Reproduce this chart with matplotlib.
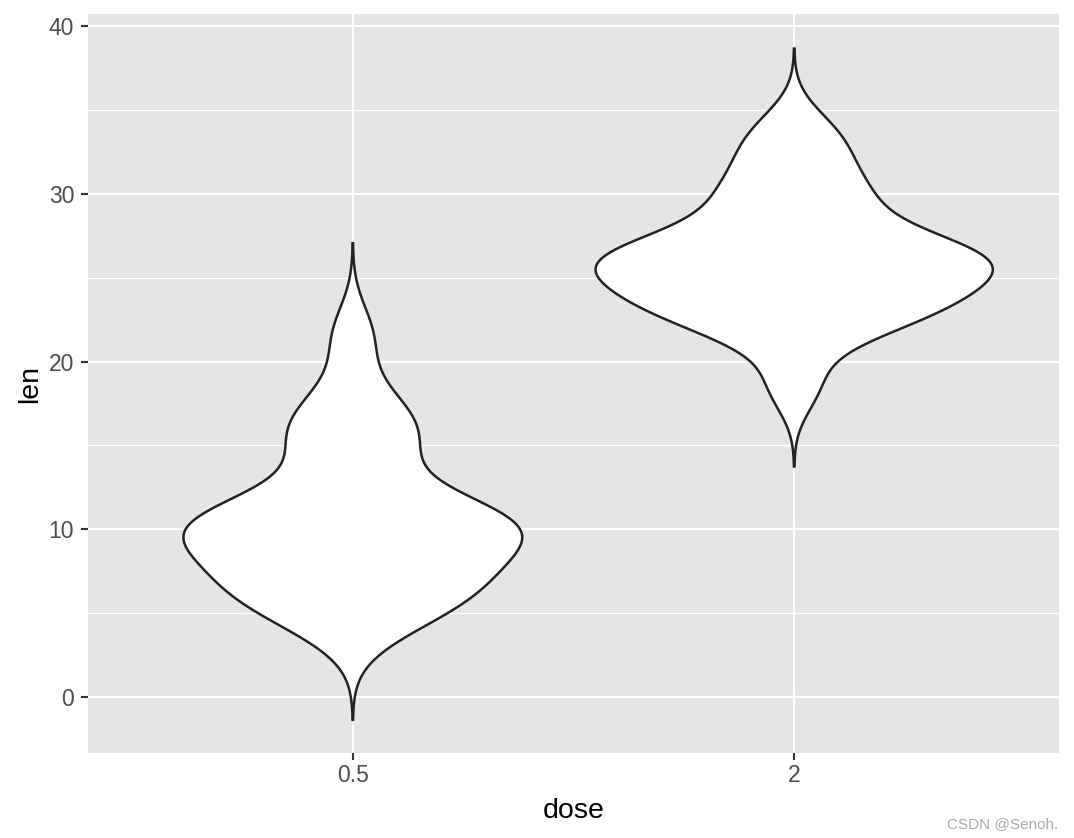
import numpy as np
import matplotlib
matplotlib.use("Agg")
import matplotlib.pyplot as plt

plt.rcParams['font.family'] = ['Liberation Sans', 'DejaVu Sans']

# ToothGrowth len values by dose
doses = ["0.5", "2"]
len_05 = [4.2, 11.5, 7.3, 5.8, 6.4, 10, 11.2, 11.2, 5.2, 7,
          15.2, 21.5, 17.6, 9.7, 14.5, 10, 8.2, 9.4, 16.5, 9.7]
len_2 = [23.6, 18.5, 33.9, 25.5, 26.4, 32.5, 26.7, 21.5, 23.3, 29.5,
         25.5, 26.4, 22.4, 24.5, 24.8, 30.9, 26.4, 27.3, 29.4, 23]
groups = [len_05, len_2]


def bw_nrd0(x):
    x = np.asarray(x)
    sd = x.std(ddof=1)
    q75, q25 = np.percentile(x, [75, 25])
    lo = min(sd, (q75 - q25) / 1.34)
    return 0.9 * lo * len(x) ** (-0.2)


def kde(x, n=512):
    # gaussian density like R's density(), not trimmed (cut = 3)
    x = np.asarray(x)
    bw = bw_nrd0(x)
    ys = np.linspace(x.min() - 3 * bw, x.max() + 3 * bw, n)
    d = np.exp(-0.5 * ((ys[:, None] - x[None, :]) / bw) ** 2).sum(axis=1)
    d = d / (len(x) * bw * np.sqrt(2 * np.pi))
    return ys, d


dens = [kde(g) for g in groups]
dmax = max(d.max() for _, d in dens)

fig = plt.figure(figsize=(10.74, 8.38), dpi=100)
ax = fig.add_axes([88 / 1074, 85 / 838, (1059 - 88) / 1074, (753 - 14) / 838])
ax.set_facecolor('#E5E5E5')

for i, (ys, d) in enumerate(dens):
    pos = i + 1
    w = 0.45 * d / dmax
    xs = np.concatenate([pos - w, (pos + w)[::-1], [pos - w[0]]])
    yy = np.concatenate([ys, ys[::-1], [ys[0]]])
    ax.fill(xs, yy, facecolor='white', edgecolor='#222222', linewidth=1.8, zorder=3)

ax.set_xlim(0.4, 2.6)
ax.set_ylim(-3.34, 40.72)
ax.set_xticks([1, 2])
ax.set_xticklabels(doses)
ax.set_yticks([0, 10, 20, 30, 40])
ax.set_yticks([5, 15, 25, 35], minor=True)
ax.tick_params(axis='x', which='minor', bottom=False)
ax.grid(which='major', color='white', linewidth=1.6, zorder=0)
ax.grid(which='minor', axis='y', color='white', linewidth=0.8, zorder=0)
ax.set_axisbelow(True)
for s in ax.spines.values():
    s.set_visible(False)
ax.tick_params(which='major', length=5, width=1.5, color='#333333',
               labelsize=16.5, labelcolor='#4D4D4D')
ax.tick_params(axis='y', pad=5)
ax.tick_params(axis='x', pad=3)
ax.tick_params(which='minor', length=0)
ax.set_xlabel('dose', fontsize=20.5, labelpad=8)
ax.set_ylabel('len', fontsize=20.5, labelpad=4)

fig.text(0.985, 0.008, 'CSDN @Senoh.', ha='right', va='bottom', fontsize=11, color='#AAAAAA')

fig.savefig('out.png', dpi=100)
